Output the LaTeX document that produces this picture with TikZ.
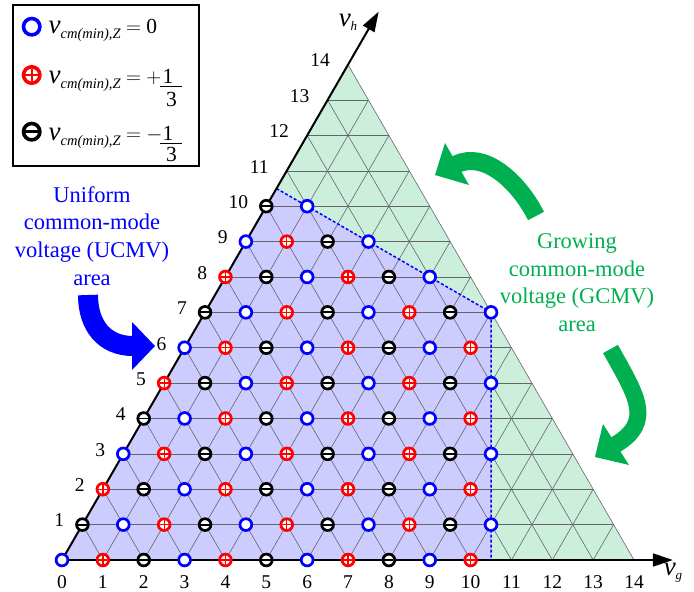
\documentclass[tikz,border=0pt]{standalone}
\usepackage{amsmath}
\usepackage{fontspec}
\setmainfont{Liberation Serif}
\usetikzlibrary{arrows.meta}
\definecolor{regblue}{RGB}{204,204,255}
\definecolor{reggreen}{RGB}{204,239,220}
\definecolor{arrgreen}{RGB}{0,176,80}
\definecolor{gridgray}{RGB}{100,100,110}
\newcommand{\myV}{{\fontsize{27}{27}\selectfont\itshape v}}
\newcommand{\vcmz}{\myV\raisebox{-5pt}{\fontsize{14.5}{14.5}\selectfont\itshape cm(min),Z}}
\tikzset{
  ring r/.initial=5.9pt, ring w/.initial=2.7pt, sym w/.initial=1.9pt, sym l/.initial=4.6pt, plus w/.initial=1.3pt,
  cblue/.pic={\draw[blue,line width=\pgfkeysvalueof{/tikz/ring w},fill=white] (0pt,0pt) circle[radius=\pgfkeysvalueof{/tikz/ring r}];},
  cred/.pic={\draw[red,line width=\pgfkeysvalueof{/tikz/ring w},fill=white] (0pt,0pt) circle[radius=\pgfkeysvalueof{/tikz/ring r}];
             \draw[red,line width=\pgfkeysvalueof{/tikz/plus w}] (-\pgfkeysvalueof{/tikz/sym l},0pt) -- (\pgfkeysvalueof{/tikz/sym l},0pt)
                 (0pt,-\pgfkeysvalueof{/tikz/sym l}) -- (0pt,\pgfkeysvalueof{/tikz/sym l});},
  cblack/.pic={\draw[black,line width=\pgfkeysvalueof{/tikz/ring w},fill=white] (0pt,0pt) circle[radius=\pgfkeysvalueof{/tikz/ring r}];
             \draw[black,line width=\pgfkeysvalueof{/tikz/sym w}] (-\pgfkeysvalueof{/tikz/sym l},0pt) -- (\pgfkeysvalueof{/tikz/sym l},0pt);},
  legring/.style={ring r=8.2pt, ring w=3.6pt, sym w=2.6pt, sym l=6.4pt, plus w=1.9pt},
  gridline/.style={gridgray, line width=0.6pt},
  axisline/.style={black, line width=2pt, -{Triangle[length=20pt,width=13pt]}},
  tick/.style={font=\fontsize{19.5}{22}\selectfont, inner sep=0pt},
  areatext/.style={font=\fontsize{22.5}{27}\selectfont, inner sep=0pt, anchor=base},
  legtext/.style={font=\fontsize{21.5}{24}\selectfont, inner sep=0pt, anchor=base west},
  fracdigit/.style={font=\fontsize{21.5}{24}\selectfont, inner sep=0pt, anchor=base},
}
\begin{document}
\begin{tikzpicture}[x=1pt,y=-1pt]
\useasboundingbox (0,0) rectangle (694,592);

\begin{scope}[shift={(62,560)}, x={(40.86pt,0pt)}, y={(20.43pt,35.38pt)}]
  % regions
  \fill[reggreen] (0,0) -- (14,0) -- (0,14) -- cycle;
  \fill[regblue] (0,0) -- (10.5,0) -- (7,7) -- (0,10.5) -- cycle;
  % triangular grid
  \foreach \k in {1,...,13} {
    \draw[gridline] (0,\k) -- (14-\k,\k);
    \draw[gridline] (\k,0) -- (\k,14-\k);
    \draw[gridline] (\k,0) -- (0,\k);
  }
  \draw[gridline] (14,0) -- (0,14);
  % UCMV boundary
  \draw[blue, line width=1.5pt, dash pattern=on 3pt off 2pt] (0,10.5) -- (7,7) -- (10.5,0);
  % axes
  \coordinate (O) at (0,0);
  \coordinate (gend) at (14.95,0);
  \coordinate (hend) at (0,15.5);
  \draw[axisline] (O) -- (gend);
  \draw[axisline] (O) -- (hend);
  % switching states
  \foreach \g in {0,...,10} {
    \foreach \h in {0,...,10} {
      \pgfmathtruncatemacro\sa{\g+2*\h}
      \pgfmathtruncatemacro\sb{2*\g+\h}
      \pgfmathtruncatemacro\cc{mod(\g-\h+30,3)}
      \ifnum\sa<22 \ifnum\sb<22
        \ifcase\cc \pic at (\g,\h) {cblue}; \or \pic at (\g,\h) {cred}; \or \pic at (\g,\h) {cblack}; \fi
      \fi\fi
    }
  }
  % tick labels
  \foreach \k in {0,...,14} {
    \node[tick, anchor=base] (gx\k) at ([yshift=-28pt]\k,0) {\k};
  }
  \foreach \k in {1,...,14} {
    \node[tick, anchor=base east] (hy\k) at ([shift={(-18pt,-2.3pt)}]0,\k) {\k};
  }
\end{scope}

% axis names
\node[inner sep=0pt] (vh) at (348,22) {\myV\raisebox{-4pt}{\fontsize{13}{13}\selectfont\itshape h}};
\node[inner sep=0pt] (vg) at (673,573) {\myV\raisebox{-4pt}{\fontsize{13}{13}\selectfont\itshape g}};

% UCMV text and arrow
\node[areatext, text=blue] (u1) at (92,202.3) {Uniform};
\node[areatext, text=blue] (u2) at (92,229.9) {common-mode};
\node[areatext, text=blue] (u3) at (92,257.5) {voltage (UCMV)};
\node[areatext, text=blue] (u4) at (92,285) {area};
\draw[blue, line width=20pt] (88,295) .. controls (88,325) and (104,346) .. (133,346);
\fill[blue] (132,322) -- (155,346) -- (132,370) -- cycle;

% GCMV text and arrows
\node[areatext, text=arrgreen] (g1) at (577,248.3) {Growing};
\node[areatext, text=arrgreen] (g2) at (577,276.1) {common-mode};
\node[areatext, text=arrgreen] (g3) at (577,303.9) {voltage (GCMV)};
\node[areatext, text=arrgreen] (g4) at (577,331.7) {area};
\draw[arrgreen, line width=18pt] (536,216) .. controls (518,180.4) and (483.7,150.5) .. (456,164.5);
\fill[arrgreen] (445,143) -- (435,175) -- (469,185) -- cycle;
\draw[arrgreen, line width=17pt] (610.5,349) .. controls (636,395) and (654.7,421.5) .. (615,445);
\fill[arrgreen] (603,424) -- (595,457) -- (629,465) -- cycle;

% legend
\draw[line width=1.1pt, fill=white] (13,5) rectangle (199,166);
\pic[legring] at (31.7,26.7) {cblue};
\pic[legring] at (31.7,75) {cred};
\pic[legring] at (31.7,131.7) {cblack};
\node[legtext] (l1) at (48.5,33.3) {\vcmz{} $=$ 0};
\node[legtext] (l2) at (48.5,83) {\vcmz{} $=$ $+$};
\node[fracdigit] (n2) at (168,83) {1};
\coordinate (b2a) at (160,86.5);
\coordinate (b2b) at (182,86.5);
\draw[line width=1.2pt] (b2a) -- (b2b);
\node[fracdigit] (d2) at (171.5,106) {3};
\node[legtext] (l3) at (48.5,140) {\vcmz{} $=$ $-$};
\node[fracdigit] (n3) at (168,140) {1};
\coordinate (b3a) at (160,143.5);
\coordinate (b3b) at (182,143.5);
\draw[line width=1.2pt] (b3a) -- (b3b);
\node[fracdigit] (d3) at (171.5,161) {3};
\end{tikzpicture}
\end{document}
